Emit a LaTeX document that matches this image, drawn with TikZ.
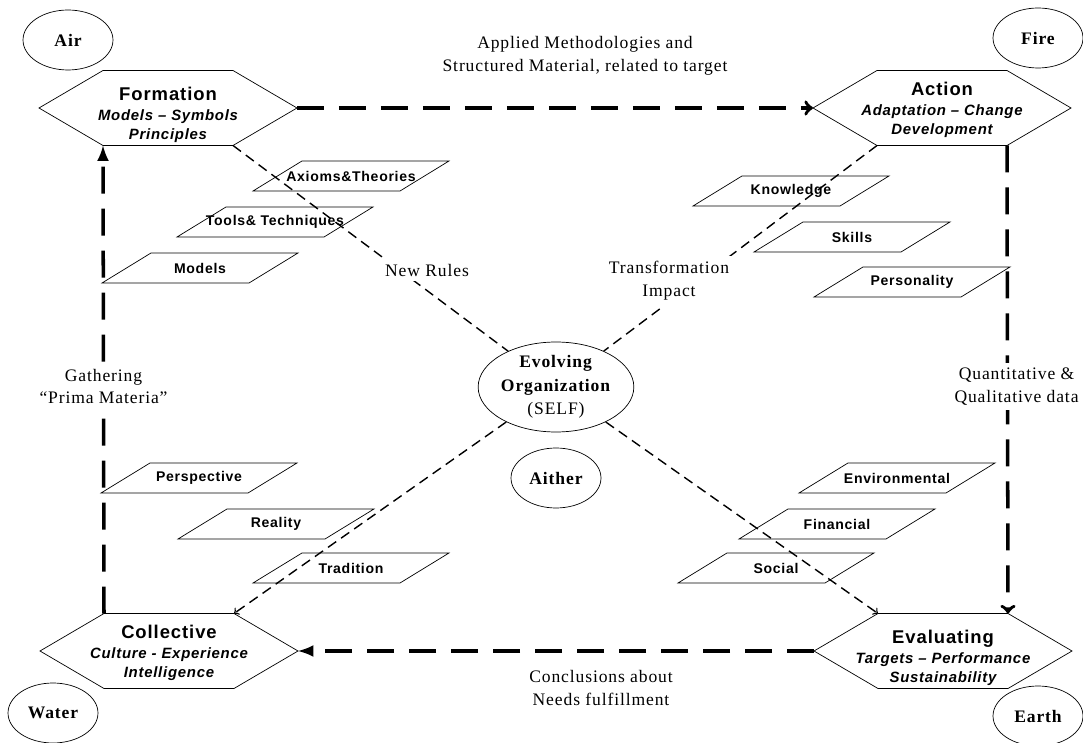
\documentclass[tikz,border=0pt]{standalone}
\usepackage{fontspec}
\setmainfont[LetterSpace=5]{Liberation Serif}
\newfontfamily\arialfont[LetterSpace=5]{Liberation Sans}
\usetikzlibrary{arrows,shapes.geometric,calc}

\begin{document}
\begin{tikzpicture}[x=0.02cm, y=-0.02cm,
  element/.style={ellipse, draw, thin, minimum width=1.8cm, minimum height=1.2cm,
    inner sep=0pt, font=\fontsize{10}{12}\selectfont\bfseries},
  phase/.style={inner sep=0pt, align=center,
    font=\arialfont\fontsize{8.5}{11}\selectfont\bfseries\itshape},
  plate/.style={inner sep=0pt, font=\arialfont\fontsize{8}{9}\selectfont\bfseries},
  note/.style={align=center, inner sep=3pt, font=\fontsize{10}{13}\selectfont},
  flow/.style={line width=2pt, dash pattern=on 0.54cm off 0.3cm},
  link/.style={line width=0.8pt, dash pattern=on 0.2cm off 0.12cm}
]
  \useasboundingbox (0,0) rectangle (1083,743);

  %% Elements
  \node[element] (air) at (68,40) {Air};
  \node[element] (fire) at (1038,38) {Fire};
  \node[element] (water) at (53,713) {Water};
  \node[element] (earth) at (1038,716) {Earth};
  \node[element] (aither) at (556,478) {Aither};
  \node[element, minimum width=3.04cm, minimum height=1.8cm, align=center,
    font=\fontsize{10}{13.5}\selectfont] (self) at (556,387)
    {\textbf{Evolving}\\\textbf{Organization}\\(SELF)};

  %% Phases
  \foreach \n/\px/\py in {formation/168/108, action/942/108,
      collective/169/651, evaluating/943/651}
    \draw[thin] (\px,\py) ++(-65,-37.5) coordinate (\n-nw) -- ++(130,0) coordinate (\n-ne)
      -- ++(64,37.5) coordinate (\n-e) -- ++(-64,37.5) coordinate (\n-se)
      -- ++(-130,0) coordinate (\n-sw) -- ++(-64,-37.5) coordinate (\n-w) -- cycle;
  \node[phase] (formation) at (168,115)
    {{\upshape\fontsize{10.5}{12}\selectfont Formation}\\Models – Symbols\\Principles};
  \node[phase] (action) at (942,110)
    {{\upshape\fontsize{10.5}{12}\selectfont Action}\\Adaptation – Change\\Development};
  \node[phase] (collective) at (169,653)
    {{\upshape\fontsize{10.5}{12}\selectfont Collective}\\Culture - Experience\\Intelligence};
  \node[phase] (evaluating) at (943,658)
    {{\upshape\fontsize{10.5}{12}\selectfont Evaluating}\\Targets – Performance\\Sustainability};

  %% Plates
  \foreach \n/\px/\py/\t in {axioms/351/176/Axioms\&Theories,
      tools/275/222/Tools\& Techniques, models/200/268/Models,
      knowledge/791/191/Knowledge, skills/852/237/Skills,
      personality/912/282/Personality, perspective/199/478/Perspective,
      reality/276/524/Reality, tradition/351/568/Tradition,
      environmental/897/478/Environmental, financial/837/524/Financial,
      social/776/568/Social}
  {
    \node[plate] (\n) at (\px,\py) {\t};
    \draw[thin] ($(\n)+(-49,-15)$) -- ++(147,0) -- ++(-49,30) -- ++(-147,0) -- cycle;
  }

  %% Cycle
  \draw[flow, ->] (formation-e) -- (action-w);
  \draw[flow, ->] (action-se) -- node[note, fill=white, pos=0.515, xshift=0.18cm]
    {Quantitative \&\\Qualitative data} (evaluating-ne);
  \draw[flow, -latex] (evaluating-w) -- (collective-e);
  \draw[flow, -latex] (collective-nw) -- node[note, fill=white, pos=0.485]
    {Gathering\\“Prima Materia”} (formation-sw);

  %% Center links
  \draw[link] (formation-se) -- (self);
  \draw[link] (action-sw) -- (self);
  \draw[link, ->] (self) -- (collective-ne);
  \draw[link, ->] (self) -- (evaluating-nw);

  %% Labels
  \node[note] (applied) at (585,56) {Applied Methodologies and\\Structured Material, related to target};
  \node[note] (conclusions) at (601,688) {Conclusions about\\Needs fulfillment};
  \node[note, fill=white] (rules) at (427,270) {New Rules};
  \node[note, fill=white] (impact) at (669,281) {Transformation\\Impact};
\end{tikzpicture}
\end{document}
